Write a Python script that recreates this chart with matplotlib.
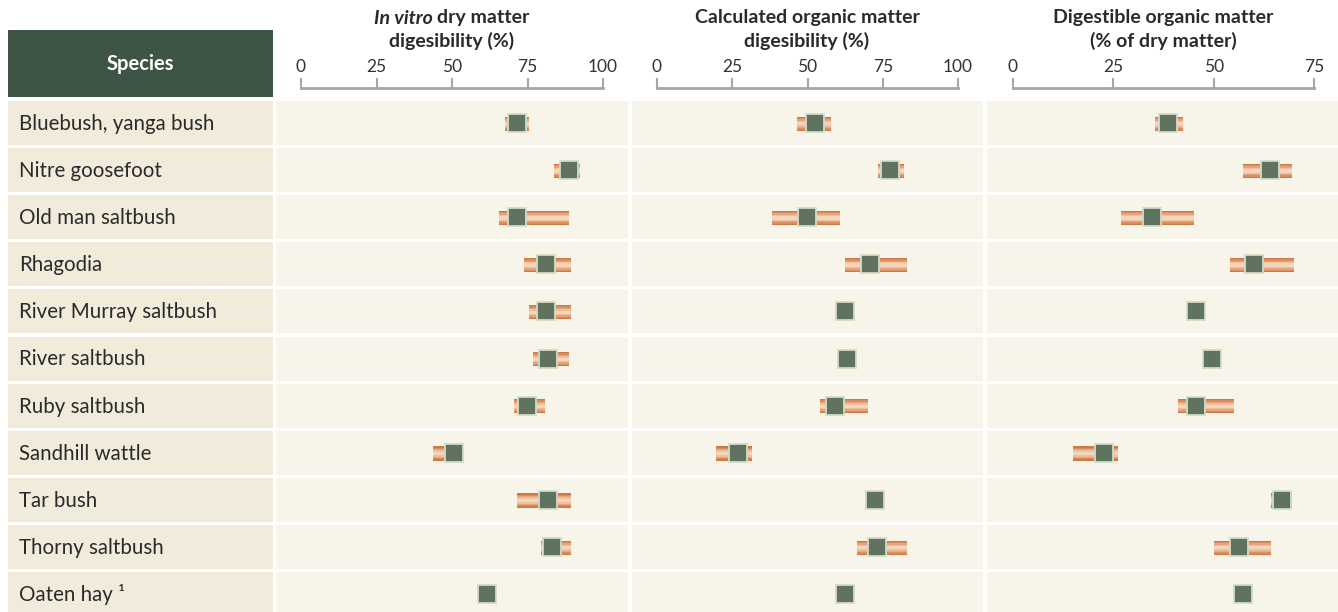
import numpy as np
import matplotlib
matplotlib.use("Agg")
import matplotlib.pyplot as plt

W, H = 1338, 612

species = ["Bluebush, yanga bush", "Nitre goosefoot", "Old man saltbush", "Rhagodia",
           "River Murray saltbush", "River saltbush", "Ruby saltbush", "Sandhill wattle",
           "Tar bush", "Thorny saltbush", "Oaten hay \u00b9"]

# In vitro dry matter digestibility (%)
ivdmd_mean = [71.5, 88.7, 71.5, 81.1, 81.1, 81.8, 74.8, 50.7, 81.8, 83.1, 61.6]
ivdmd_lo   = [67.5, 83.8, 65.6, 73.8, 75.5, 76.8, 70.5, 43.7, 71.5, 79.5, None]
ivdmd_hi   = [75.5, 92.4, 88.7, 89.4, 89.4, 88.7, 80.8, 53.6, 89.4, 89.4, None]

# Calculated organic matter digestibility (%)
omd_mean = [52.5, 77.4, 49.8, 70.8, 62.5, 63.1, 59.1, 26.9, 72.4, 73.1, 62.5]
omd_lo   = [46.5, 73.4, 38.2, 62.5, None, None, 54.2, 19.6, None, 66.4, None]
omd_hi   = [57.8, 82.1, 60.8, 83.1, None, None, 70.1, 31.6, None, 83.1, None]

# Digestible organic matter (% of dry matter)
dom_mean = [38.6, 64.0, 34.6, 60.1, 45.6, 49.6, 45.6, 22.6, 67.0, 56.2, 57.3]
dom_lo   = [35.4, 57.3, 26.9, 54.1, None, None, 41.1, 15.0, 64.3, 50.1, None]
dom_hi   = [42.4, 69.5, 45.1, 70.0, None, None, 55.1, 26.2, 69.5, 64.3, None]

ticks_100 = [0, 25, 50, 75, 100]
ticks_75 = [0, 25, 50, 75]

FONT = "Lato"
HEAD_GREEN = "#3e5545"
SPEC_BG = "#f1ebdb"
CELL_BG = "#f7f4ea"
SQ_FILL = "#5f735e"
SQ_EDGE = "#d3dbc9"
TXT = "#2a2a2a"

# copper bar shading, outer -> inner
bar_layers = [(0.30, "#cf7a46"), (0.25, "#d98d5d"), (0.19, "#e4a57c"),
              (0.13, "#edbf9c"), (0.07, "#f4d6bf")]

fig = plt.figure(figsize=(W / 100, H / 100), dpi=100)
fig.patch.set_facecolor("white")


def px_axes(x0, y0, x1, y1):
    return fig.add_axes([x0 / W, 1 - y1 / H, (x1 - x0) / W, (y1 - y0) / H])


# row geometry (pixels)
row_top, row_step = 99.5, 47.1
n = len(species)
rows_bottom = row_top + row_step * n
band_h = 0.935

# species column
sax = px_axes(8, row_top, 273, rows_bottom)
sax.set_xlim(0, 1)
sax.set_ylim(n - 0.5, -0.5)
sax.axis("off")
for i, name in enumerate(species):
    sax.axhspan(i - band_h / 2, i + band_h / 2, color=SPEC_BG, lw=0)
    sax.text(11 / 265, i + 0.02, name, ha="left", va="center", fontsize=14.8,
             family=FONT, color=TXT)

hax = px_axes(8, 30, 273, 97)
hax.set_facecolor(HEAD_GREEN)
hax.set_xticks([]); hax.set_yticks([])
for s in hax.spines.values():
    s.set_visible(False)
hax.text(0.5, 0.5, "Species", ha="center", va="center", color="white",
         fontsize=14.5, fontweight="bold", family=FONT, transform=hax.transAxes)

panels = [
    # cell x0, x1, tick0 px, tickmax px, vmax, ticks, data
    (276, 628, 301, 603, 100, ticks_100, ivdmd_mean, ivdmd_lo, ivdmd_hi),
    (632, 983, 657, 958, 100, ticks_100, omd_mean, omd_lo, omd_hi),
    (987, 1338, 1013, 1314, 75, ticks_75, dom_mean, dom_lo, dom_hi),
]

for (cx0, cx1, t0, t1, vmax, ticks, mean, lo, hi) in panels:
    ppu = (t1 - t0) / vmax
    ax = px_axes(cx0, row_top, cx1, rows_bottom)
    ax.set_xlim((cx0 - t0) / ppu, (cx1 - t0) / ppu)
    ax.set_ylim(n - 0.5, -0.5)
    ax.axis("off")
    for i in range(n):
        ax.axhspan(i - band_h / 2, i + band_h / 2, color=CELL_BG, lw=0)
    ys = np.arange(n)
    for i in range(n):
        if lo[i] is None:
            continue
        w = hi[i] - lo[i]
        for hgt, col in bar_layers:
            ax.barh(i + 0.015, w, left=lo[i], height=hgt, color=col, lw=0)
    ax.plot(mean, ys, ls="none", marker="s", markersize=13.5,
            markerfacecolor=SQ_FILL, markeredgecolor=SQ_EDGE, markeredgewidth=1.3)

    # scale in the header
    tax = px_axes(t0, 79, t1, 88)
    tax.set_xlim(0, vmax)
    tax.set_ylim(0, 1)
    tax.patch.set_alpha(0)
    for k in ["top", "left", "right"]:
        tax.spines[k].set_visible(False)
    tax.spines["bottom"].set_color("#a6a6a6")
    tax.spines["bottom"].set_linewidth(2.0)
    tax.set_yticks([])
    tax.set_xticks(ticks)
    tax.set_xticklabels([str(t) for t in ticks], family=FONT, fontsize=12.5, color="#333333")
    tax.tick_params(axis="x", direction="in", length=7, width=1.5, color="#a6a6a6",
                    bottom=True, top=False, labelbottom=False, labeltop=True, pad=3)

# panel titles
tkw = dict(ha="center", va="center", fontsize=14, fontweight="bold",
           family=FONT, color=TXT)
fig.text(433 / W, 1 - 18 / H, "In vitro", **{**tkw, "ha": "right", "style": "italic"})
fig.text(437 / W, 1 - 18 / H, "dry matter", **{**tkw, "ha": "left"})
fig.text(452 / W, 1 - 41 / H, "digesibility (%)", **tkw)
fig.text(807 / W, 1 - 18 / H, "Calculated organic matter", **tkw)
fig.text(807 / W, 1 - 41 / H, "digesibility (%)", **tkw)
fig.text(1163 / W, 1 - 18 / H, "Digestible organic matter", **tkw)
fig.text(1163 / W, 1 - 41 / H, "(% of dry matter)", **tkw)

fig.savefig("out.png", dpi=100, facecolor="white")
